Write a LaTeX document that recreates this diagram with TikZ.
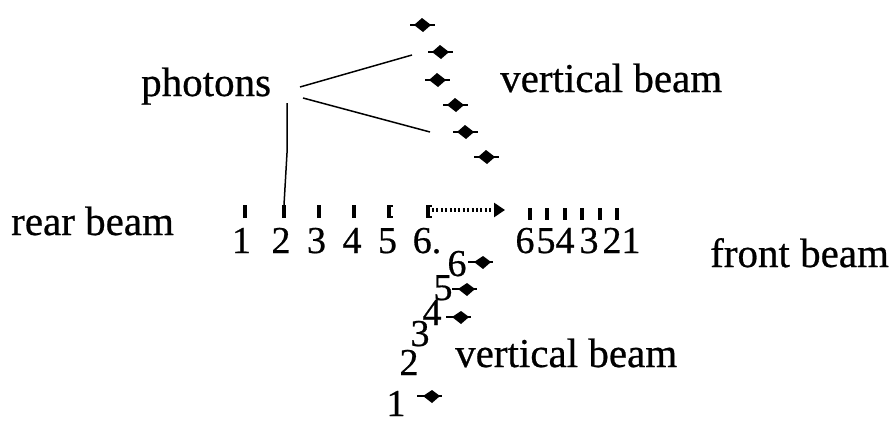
\documentclass[tikz,border=0pt]{standalone}
\usepackage{fontspec}
\setmainfont{Liberation Serif}[FakeBold=0.6]
\usetikzlibrary{arrows.meta}

\tikzset{
  lab/.style={inner sep=0pt, anchor=base west, font=\fontsize{41}{45}\selectfont},
  num/.style={inner sep=0pt, anchor=base, font=\fontsize{38}{40}\selectfont},
  tick/.style={line width=3.6pt},
  guide/.style={line width=1.5pt}
}

\begin{document}
\begin{tikzpicture}[x=1pt, y=-1pt]
  \useasboundingbox (0,0) rectangle (892,423);

  % Labels
  \node[lab] (photons) at (141,96) {photons};
  \node[lab] (vtop) at (500,92) {vertical beam};
  \node[lab] (rear) at (11,235) {rear beam};
  \node[lab] (front) at (710,267) {front beam};
  \node[lab] (vbot) at (455,367) {vertical beam};

  % Upper vertical beam photons
  \foreach \x/\y [count=\i] in {423/25, 441/52, 438/80, 456/105, 466/132, 487/157}{
    \coordinate (up\i) at (\x,\y);
    \draw[line width=2.6pt] (\x-13,\y) -- (\x+12,\y);
    \fill (\x-9,\y) -- (\x-1,\y-7) -- (\x+8,\y) -- (\x,\y+7) -- cycle;
  }

  % Rear beam ticks and numbers
  \foreach \x/\lab [count=\i] in {245/1, 284/2, 319/3, 354/4, 389/5, 428/6.}{
    \draw[tick] (\x,205) -- (\x,218);
    \coordinate (r\i) at (\x,205);
    \node[num] (rn\i) at (\x-4+\i*0.5,253) {\lab};
  }
  \draw[line width=1.8pt] (389,205.9) -- (393,205.9) (389,217.1) -- (393,217.1);
  \draw[line width=1.8pt] (428,205.9) -- (432,205.9) (428,217.1) -- (432,217.1);

  % Dotted photon run along the beam
  \coordinate (runend) at (505,210);
  \draw[line width=4pt, dash pattern=on 2pt off 2.4pt,
    -{Triangle[length=11pt,width=14pt]}] (432,210) -- (runend);

  % Front beam ticks and numbers
  \foreach \x in {530, 547, 565, 582, 600, 617}{
    \draw[tick] (\x,208) -- (\x,220);
  }
  \foreach \x/\lab in {525/6, 546/5, 565/4, 589/3, 612/2, 631/1}{
    \node[num] at (\x,253) {\lab};
  }

  % Lower vertical beam numbers and photons
  \foreach \x/\y/\lab in {457/276/6, 443/300/5, 432/325/4, 420/346/3, 409/375/2, 396/416/1}{
    \node[num] at (\x,\y) {\lab};
  }
  \foreach \x/\y [count=\i] in {483/262, 467/289, 461/317, 432/396}{
    \coordinate (lo\i) at (\x,\y);
    \draw[line width=2.6pt] (\x-15,\y) -- (\x+10,\y);
    \fill (\x-9,\y) -- (\x,\y-6) -- (\x+8,\y) -- (\x,\y+7) -- cycle;
  }

  % Pointers from the label
  \coordinate (p1) at (300,87);
  \coordinate (p2) at (303,98);
  \coordinate (p3) at (287,103);
  \coordinate (a1) at (412,55);
  \coordinate (a2) at (430,132);
  \draw[guide] (p1) -- (a1);
  \draw[guide] (p2) -- (a2);
  \draw[guide] (p3) -- (287,153) -- (r2);
\end{tikzpicture}
\end{document}
